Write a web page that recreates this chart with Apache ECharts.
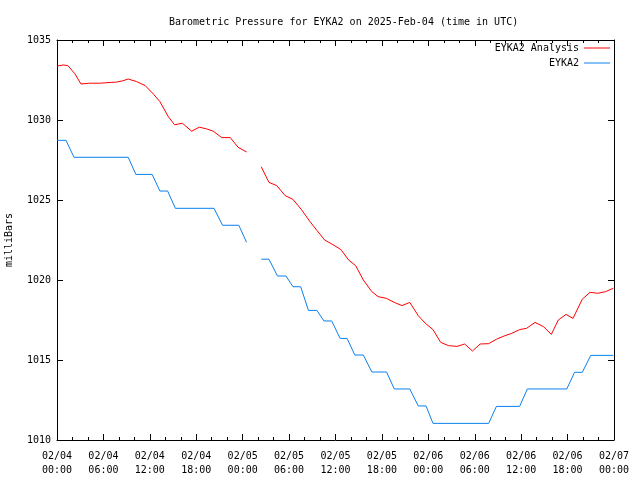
<!DOCTYPE html>
<html>
<head>
<meta charset="utf-8">
<script src="https://cdn.jsdelivr.net/npm/echarts@6/dist/echarts.min.js"></script>
<style>html,body{margin:0;padding:0;background:#fff}#c{width:640px;height:480px}</style>
</head>
<body>
<div id="c"></div>
<script>
// Hours since 2025-02-04 00:00 UTC; null marks a data gap
const analysisHours = [0,0.8,1.4,2.3,3.1,4.2,5.6,7.0,7.7,8.5,9.2,10.3,11.4,12.5,13.3,14.4,15.2,16.2,17.4,18.4,19.3,20.2,21.3,22.4,23.4,24.5,25.4,
  26.4,27.4,28.4,29.5,30.5,31.6,32.7,33.6,34.6,35.7,36.7,37.7,38.6,39.6,40.7,41.5,42.6,43.6,44.6,45.6,46.7,47.6,48.6,49.6,50.6,51.7,52.7,53.7,54.7,55.8,56.8,57.8,58.8,59.8,60.7,61.8,62.9,63.9,64.8,65.8,66.7,67.9,68.9,69.9,70.9,71.9];
const analysisValues = [1033.37,1033.44,1033.4,1032.9,1032.25,1032.3,1032.3,1032.35,1032.37,1032.45,1032.56,1032.4,1032.15,1031.6,1031.15,1030.2,1029.7,1029.8,1029.3,1029.55,1029.45,1029.3,1028.9,1028.9,1028.3,1028.0,null,
  1027.08,1026.1,1025.9,1025.27,1025.04,1024.4,1023.65,1023.1,1022.5,1022.2,1021.9,1021.25,1020.9,1020.0,1019.27,1018.96,1018.85,1018.6,1018.4,1018.6,1017.77,1017.3,1016.9,1016.1,1015.9,1015.85,1016.0,1015.56,1016.0,1016.02,1016.3,1016.5,1016.67,1016.9,1016.98,1017.35,1017.08,1016.6,1017.5,1017.85,1017.6,1018.8,1019.23,1019.17,1019.27,1019.48];

const obsHours = [0,1.16,2.2,9.2,10.2,12.3,13.3,14.3,15.3,20.3,21.4,23.5,24.5,25.4,
  26.4,27.4,28.5,29.6,30.5,31.5,32.5,33.6,34.5,35.5,36.6,37.5,38.5,39.6,40.7,42.6,43.6,45.6,46.7,47.7,48.6,55.8,56.8,59.8,60.8,65.9,66.9,67.9,69.0,71.9];
const obsValues = [1028.73,1028.73,1027.67,1027.67,1026.6,1026.6,1025.56,1025.56,1024.48,1024.48,1023.42,1023.42,1022.36,null,
  1021.3,1021.3,1020.25,1020.25,1019.58,1019.58,1018.1,1018.1,1017.44,1017.44,1016.35,1016.35,1015.31,1015.31,1014.25,1014.25,1013.19,1013.19,1012.13,1012.13,1011.04,1011.04,1012.1,1012.1,1013.19,1013.19,1014.23,1014.23,1015.29,1015.29];

const seriesNames = ['EYKA2 Analysis', 'EYKA2'];
const titleText = 'Barometric Pressure for EYKA2 on 2025-Feb-04 (time in UTC)';

const FONT = 'DejaVu Sans Mono';
const FS = 10;

function pairs(hs, vs) { return hs.map((h, i) => [h, vs[i]]); }
function fmtX(v) {
  const day = 4 + Math.floor(v / 24);
  const hr = v % 24;
  return '02/0' + day + '\n' + String(hr).padStart(2, '0') + ':00';
}

const chart = echarts.init(document.getElementById('c'), null, {renderer: 'canvas'});
const baseX = {
  type: 'value', min: 0, max: 72, interval: 6,
  axisLine: {show: true, onZero: false, lineStyle: {color: '#000', width: 1}},
  splitLine: {show: false},
  axisTick: {show: true, inside: true, length: 6, lineStyle: {color: '#000'}},
  minorTick: {show: true, splitNumber: 3, length: 3, lineStyle: {color: '#000'}},
  minorSplitLine: {show: false}
};
const baseY = {
  type: 'value', min: 1010, max: 1035, interval: 5,
  axisLine: {show: true, onZero: false, lineStyle: {color: '#000', width: 1}},
  splitLine: {show: false},
  axisTick: {show: true, inside: true, length: 6, lineStyle: {color: '#000'}}
};
const legendCommon = {
  align: 'right', itemWidth: 26, itemHeight: 1, icon: 'rect', itemGap: 0, padding: 0,
  textStyle: {fontFamily: FONT, fontSize: FS, color: '#000'}
};
chart.setOption({
  animation: false,
  backgroundColor: '#fff',
  title: {
    text: titleText, left: 164, top: 12,
    textStyle: {fontFamily: FONT, fontSize: FS, fontWeight: 'normal', color: '#000'}
  },
  legend: [
    Object.assign({data: [seriesNames[0]], right: 30, top: 43}, legendCommon),
    Object.assign({data: [seriesNames[1]], right: 30, top: 58}, legendCommon)
  ],
  grid: {left: 57, right: 26, top: 40, bottom: 40, show: false, containLabel: false, outerBoundsMode: 'none'},
  xAxis: [
    Object.assign({}, baseX, {position: 'bottom',
      axisLabel: {formatter: fmtX, fontFamily: FONT, fontSize: FS, color: '#000', lineHeight: 14, margin: 9}}),
    Object.assign({}, baseX, {position: 'top', axisLabel: {show: false}})
  ],
  yAxis: [
    Object.assign({}, baseY, {position: 'left',
      name: 'milliBars', nameLocation: 'middle', nameRotate: 90, nameGap: 43,
      nameTextStyle: {fontFamily: FONT, fontSize: FS, color: '#000'},
      axisLabel: {fontFamily: FONT, fontSize: FS, color: '#000', margin: 6, formatter: v => String(v)}}),
    Object.assign({}, baseY, {position: 'right', axisLabel: {show: false}})
  ],
  series: [
    {name: seriesNames[0], type: 'line', data: pairs(analysisHours, analysisValues), showSymbol: false,
     connectNulls: false, lineStyle: {color: '#ff0000', width: 1}, itemStyle: {color: '#ff0000'}, xAxisIndex: 0, yAxisIndex: 0},
    {name: seriesNames[1], type: 'line', data: pairs(obsHours, obsValues), showSymbol: false,
     connectNulls: false, lineStyle: {color: '#0a80ee', width: 1}, itemStyle: {color: '#0a80ee'}, xAxisIndex: 0, yAxisIndex: 0}
  ]
});
</script>
</body>
</html>
